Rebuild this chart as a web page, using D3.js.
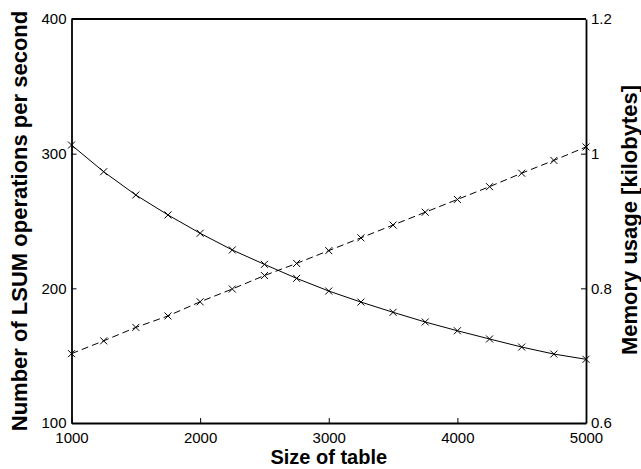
<!DOCTYPE html>
<html>
<head>
<meta charset="utf-8">
<script src="https://cdn.jsdelivr.net/npm/d3@7"></script>
<style>
  body { margin: 0; background: #fff; }
  svg { font-family: "Liberation Sans", Arial, sans-serif; }
</style>
</head>
<body>
<svg id="chart" width="641" height="469"></svg>
<script>
// table sizes (x)
const tableSizes = [1000, 1250, 1500, 1750, 2000, 2250, 2500, 2750, 3000,
  3250, 3500, 3750, 4000, 4250, 4500, 4750, 5000];
// LSUM operations per second (left axis, solid)
const opsPerSecond = [306.4, 286.6, 269.3, 254.5, 240.9, 228.5, 217.8, 207.4, 198.0,
  189.8, 182.2, 175.0, 168.5, 162.4, 156.4, 151.2, 147.3];
// memory usage in kilobytes (right axis, dashed)
const memoryKb = [0.703, 0.722, 0.742, 0.759, 0.780, 0.799, 0.819, 0.837, 0.856,
  0.875, 0.894, 0.913, 0.932, 0.951, 0.971, 0.990, 1.010];

const xTicks = [1000, 2000, 3000, 4000, 5000];
const leftTicks = [100, 200, 300, 400];
const rightTicks = [0.6, 0.8, 1, 1.2];

const margin = { left: 71.5, right: 55, top: 19, bottom: 46 };
const width = 641, height = 469;

const svg = d3.select('#chart');

const x = d3.scaleLinear().domain([1000, 5000]).range([margin.left, width - margin.right]);
const yL = d3.scaleLinear().domain([100, 400]).range([height - margin.bottom, margin.top]);
const yR = d3.scaleLinear().domain([0.6, 1.2]).range([height - margin.bottom, margin.top]);

const fmt = (d) => String(d);

//AXES
const xAxis = svg.append('g')
  .attr('transform', `translate(0,${height - margin.bottom})`)
  .call(d3.axisBottom(x).tickValues(xTicks).tickSizeInner(-5).tickSizeOuter(0).tickPadding(9).tickFormat(fmt));
xAxis.selectAll('text').attr('font-size', 15).attr('fill', '#000');

const leftAxis = svg.append('g')
  .attr('transform', `translate(${margin.left},0)`)
  .call(d3.axisLeft(yL).tickValues(leftTicks).tickSizeInner(-5).tickSizeOuter(0).tickPadding(5).tickFormat(fmt));
leftAxis.selectAll('text').attr('font-size', 15).attr('fill', '#000');

const rightAxis = svg.append('g')
  .attr('transform', `translate(${width - margin.right},0)`)
  .call(d3.axisRight(yR).tickValues(rightTicks).tickSizeInner(-5).tickSizeOuter(0).tickPadding(5).tickFormat(fmt));
rightAxis.selectAll('text').attr('font-size', 15).attr('fill', '#000');

svg.selectAll('.domain').attr('stroke', '#000').attr('stroke-width', 1.8);
svg.selectAll('.tick line').attr('stroke', '#000').attr('stroke-width', 1);

// top border
svg.append('line')
  .attr('x1', x(1000)).attr('x2', x(5000))
  .attr('y1', yL(400)).attr('y2', yL(400))
  .attr('stroke', '#000').attr('stroke-width', 1.8);

//SERIES
const solid = d3.line().x((d, i) => x(tableSizes[i])).y((d) => yL(d));
const dashed = d3.line().x((d, i) => x(tableSizes[i])).y((d) => yR(d));

svg.append('path').attr('d', solid(opsPerSecond))
  .attr('fill', 'none').attr('stroke', '#000').attr('stroke-width', 1);
svg.append('path').attr('d', dashed(memoryKb))
  .attr('fill', 'none').attr('stroke', '#000').attr('stroke-width', 1)
  .attr('stroke-dasharray', '7,4');

const m = 3.5;
function markers(values, yScale) {
  svg.append('g').selectAll('path')
    .data(values)
    .enter()
    .append('path')
    .attr('d', (d, i) => {
      const cx = x(tableSizes[i]), cy = yScale(d);
      return `M${cx - m},${cy - m}L${cx + m},${cy + m}M${cx - m},${cy + m}L${cx + m},${cy - m}`;
    })
    .attr('stroke', '#000').attr('stroke-width', 1).attr('fill', 'none');
}
markers(opsPerSecond, yL);
markers(memoryKb, yR);

//TITLES
svg.append('text')
  .attr('x', (x(1000) + x(5000)) / 2)
  .attr('y', 464)
  .attr('text-anchor', 'middle')
  .attr('font-size', 20).attr('font-weight', 'bold')
  .text('Size of table');

svg.append('text')
  .attr('transform', `translate(27,221) rotate(-90)`)
  .attr('text-anchor', 'middle')
  .attr('font-size', 22).attr('font-weight', 'bold')
  .text('Number of LSUM operations per second');

svg.append('text')
  .attr('transform', `translate(637,220) rotate(-90)`)
  .attr('text-anchor', 'middle')
  .attr('font-size', 22).attr('font-weight', 'bold')
  .text('Memory usage [kilobytes]');
</script>
</body>
</html>
